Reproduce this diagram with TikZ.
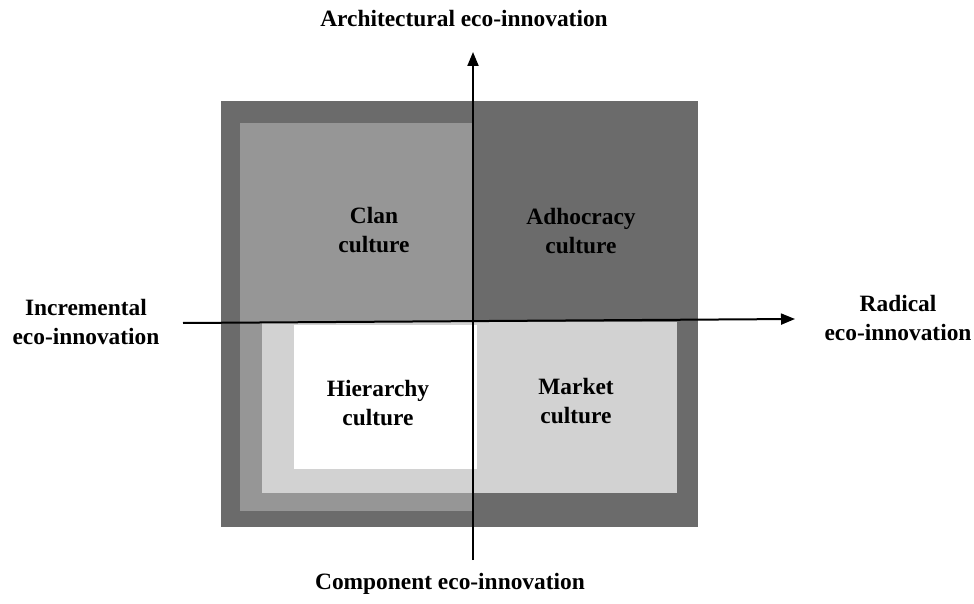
\documentclass[tikz,border=0pt]{standalone}
\usepackage{fontspec}
\setmainfont{Liberation Serif}
\usetikzlibrary{arrows.meta}
\definecolor{darkgrey}{RGB}{107,107,107}
\definecolor{midgrey}{RGB}{150,150,150}
\definecolor{lightgrey}{RGB}{210,210,210}

\begin{document}
\begin{tikzpicture}[x=1pt,y=-1pt,
  lbl/.style={font=\bfseries\fontsize{23.4}{29.5}\selectfont,align=center,inner sep=0pt},
  axis/.style={line width=2pt,-{Triangle[length=14pt,width=11pt]}}]
  \useasboundingbox (0,0) rectangle (974,604);
  % nested culture boxes
  \fill[darkgrey] (221,101) rectangle (698,527);
  \fill[midgrey] (240,123) rectangle (473,511);
  \fill[lightgrey] (262,322) rectangle (677,493);
  \fill[white] (294,325) rectangle (477,469);
  % axes
  \coordinate (west) at (183,323);
  \coordinate (east) at (795,319);
  \coordinate (south) at (473,560);
  \coordinate (north) at (473,52);
  \draw[axis] (west) -- (east);
  \draw[axis] (south) -- (north);
  % axis labels
  \node[lbl] (arch) at (464,19) {Architectural eco-innovation};
  \node[lbl,anchor=base] (comp) at (450,589) {Component eco-innovation};
  \node[lbl] (incr) at (86,322) {Incremental\\eco-innovation};
  \node[lbl] (radi) at (898,318) {Radical\\eco-innovation};
  % quadrants
  \node[lbl] (clan) at (374,230) {Clan\\culture};
  \node[lbl] (adho) at (581,231) {Adhocracy\\culture};
  \node[lbl] (hier) at (378,403) {Hierarchy\\culture};
  \node[lbl] (mark) at (576,401) {Market\\culture};
\end{tikzpicture}
\end{document}
